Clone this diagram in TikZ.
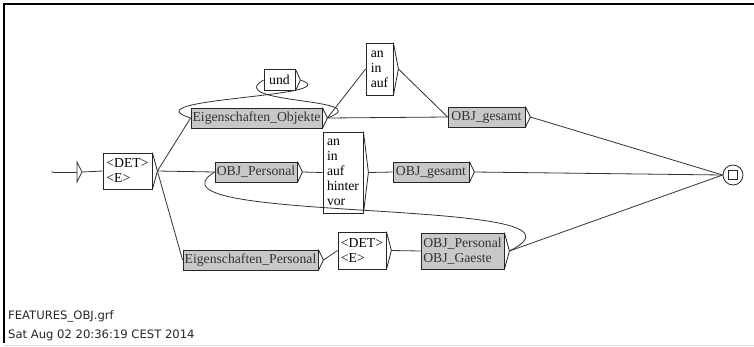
\documentclass[tikz,border=0pt]{standalone}
\usepackage{fontspec}
\setmainfont{Liberation Serif}
\newfontfamily\footfont{DejaVu Sans}
\usetikzlibrary{calc}
\definecolor{boxgray}{RGB}{200,200,200}
\definecolor{linegray}{RGB}{50,50,50}

\begin{document}
\begin{tikzpicture}[x=1pt,y=-1pt,
  box/.style={draw=black!85, line width=0.8pt, rectangle, inner sep=0pt,
    align=left, font=\fontsize{13.7}{15}\selectfont, text=black},
  subgraph/.style={box, fill=boxgray, text=black!80},
  trans/.style={draw=linegray, line width=0.8pt},
  footer/.style={anchor=base west, inner sep=0pt,
    font=\footfont\fontsize{11.6}{13}\selectfont, text=black!85},
]
\useasboundingbox (0,0) rectangle (754,346);

% frame
\draw[line width=2pt] (4,343) -- (4,4) -- (754,4);
\draw[black!15, line width=1pt] (4,345) -- (754,345);

% initial state
\coordinate (start) at (53,172);
\coordinate (initL) at (77,172);
\coordinate (initT) at (82,172);
\draw[black!50, line width=0.4pt] (51,170.5) -- (start) -- (51,173.5);
\draw[trans] (initL) ++(0,-10) -- (initT) -- ++(-5,10) -- cycle;

% boxes
\node[box, minimum width=49pt, minimum height=36pt] (det1) at (127.5,171)
  {\textless DET\textgreater\\\textless E\textgreater};
\node[subgraph, minimum width=131pt, minimum height=20pt] (eo) at (256.5,118)
  {Eigenschaften\_Objekte};
\node[box, minimum width=31pt, minimum height=21pt] (und) at (279.5,80) {und};
\node[box, minimum width=27pt, minimum height=52pt] (prepA) at (379.5,69)
  {an\\in\\auf};
\node[subgraph, minimum width=77pt, minimum height=20pt] (gesA) at (486.5,117)
  {OBJ\_gesamt};
\node[subgraph, minimum width=82pt, minimum height=20pt] (objp) at (256,172)
  {OBJ\_Personal};
\node[box, minimum width=40pt, minimum height=81pt] (prepB) at (343,172.5)
  {an\\in\\auf\\hinter\\vor};
\node[subgraph, minimum width=76pt, minimum height=20pt] (gesB) at (431,172)
  {OBJ\_gesamt};
\node[subgraph, minimum width=135pt, minimum height=20pt] (eigp) at (250.5,260)
  {Eigenschaften\_Personal};
\node[box, minimum width=48pt, minimum height=37pt] (det2) at (362,250.5)
  {\textless DET\textgreater\\\textless E\textgreater};
\node[subgraph, minimum width=83pt, minimum height=36pt] (objpg) at (462.5,251)
  {OBJ\_Personal\\OBJ\_Gaeste};

% output chevrons on the right side of every box
\foreach \n in {det1,eo,und,prepA,gesA,objp,prepB,gesB,eigp,det2,objpg}{
  \coordinate (\n-t) at ($(\n.east)+(5,0)$);
  \draw[black!85, line width=0.8pt] (\n.north east) -- (\n-t) -- (\n.south east);
}

% final state
\node[circle, draw=black!85, line width=0.8pt, minimum size=20pt, inner sep=0pt] (fin) at (733,175) {};
\node[draw=black!85, line width=0.8pt, minimum size=9pt, inner sep=0pt] (finsq) at (fin) {};

% transitions
\draw[trans] (start) -- (initL);
\draw[trans] (initT) -- (det1.west);
\draw[trans] (det1-t) -- (eo.west);
\draw[trans] (det1-t) -- (objp.west);
\draw[trans] (det1-t) -- (eigp.west);
\draw[trans] (eo-t) -- (prepA.west);
\draw[trans] (eo-t) -- (gesA.west);
\draw[trans] (prepA-t) -- (gesA.west);
\draw[trans] (gesA-t) -- (fin.west);
\draw[trans] (objp-t) -- (prepB.west);
\draw[trans] (prepB-t) -- (gesB.west);
\draw[trans] (gesB-t) -- (fin.west);
\draw[trans] (eigp-t) -- (det2.west);
\draw[trans] (det2-t) -- (objpg.west);
\draw[trans] (objpg-t) -- (fin.west);

% backward transitions
\draw[trans] (eo-t) .. controls +(53,-20) and +(-42,24) .. (und.west);
\draw[trans] (und-t) .. controls +(50,17) and +(-64,-20) .. (eo.west);
\draw[trans] (objpg-t) .. controls +(111,-55) and +(-85,53) .. (objp.west);

% file information
\node[footer] (fname) at (8,319) {FEATURES\_OBJ.grf};
\node[footer] (fdate) at (8,338) {Sat Aug 02 20:36:19 CEST 2014};
\end{tikzpicture}
\end{document}
